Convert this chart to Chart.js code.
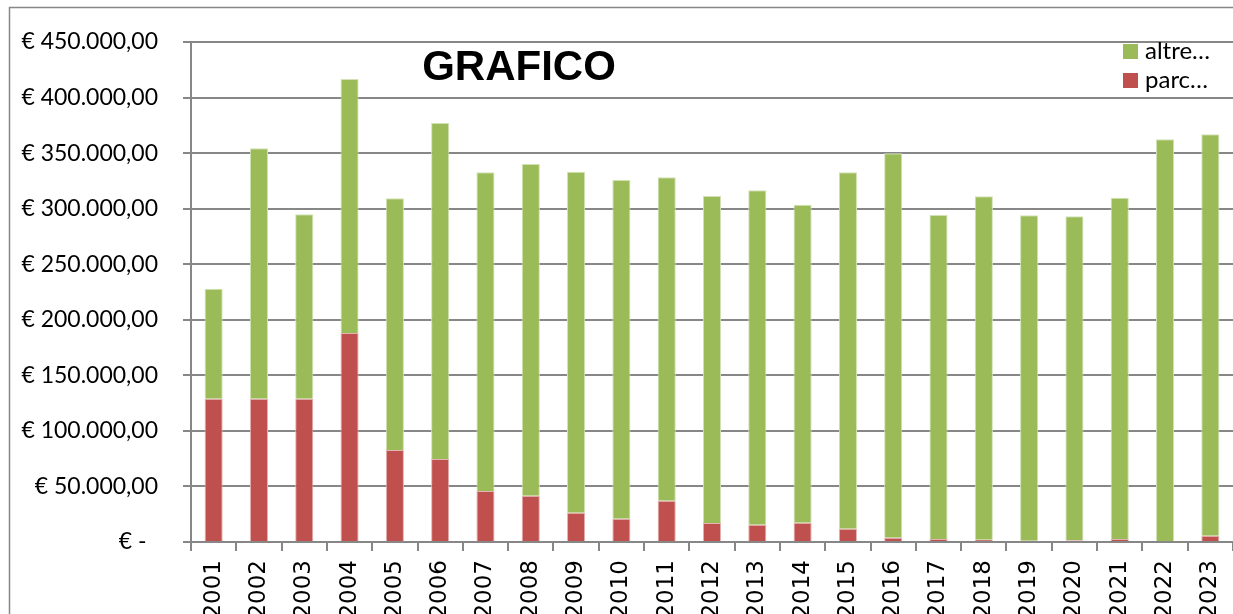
<!DOCTYPE html>
<html>
<head>
<meta charset="utf-8">
<script src="https://cdn.jsdelivr.net/npm/chart.js@4"></script>
<style>
  html, body { margin: 0; padding: 0; background: #fff; overflow: hidden; }
  #wrap { width: 1233px; height: 614px; }
</style>
</head>
<body>
<div id="wrap"><canvas id="grafico" width="1233" height="614"></canvas></div>
<script>
// dati
const anni = ["2001", "2002", "2003", "2004", "2005", "2006", "2007", "2008", "2009", "2010", "2011", "2012",
  "2013", "2014", "2015", "2016", "2017", "2018", "2019", "2020", "2021", "2022", "2023"];
const parc = [129000, 129000, 129000, 188100, 82800, 74700, 45900, 41700, 26400, 21000, 37200, 17100,
  15600, 17400, 12000, 3900, 2700, 2100, 1200, 1500, 2700, 900, 5700];
const altre = [99000, 225300, 165900, 228600, 226500, 302400, 286800, 298500, 306900, 304800, 291000, 294300,
  300900, 286200, 320700, 345900, 291600, 309000, 292800, 291600, 307200, 361500, 361200];
const yTicks = [0, 50000, 100000, 150000, 200000, 250000, 300000, 350000, 400000, 450000];

const verde = '#9BBB59';
const rosso = '#C0504D';
const grigio = '#878787';

function euro(v) {
  if (v === 0) return '€ -\u2002';
  const s = Math.round(v).toString().replace(/\B(?=(\d{3})+(?!\d))/g, '.');
  return '€ ' + s + ',00';
}

// cornice, titolo e legenda disegnati a mano
const decorazioni = {
  id: 'decorazioni',
  beforeDraw(chart) {
    const ctx = chart.ctx;
    ctx.save();
    ctx.fillStyle = '#fff';
    ctx.fillRect(0, 0, chart.width, chart.height);
    ctx.strokeStyle = grigio;
    ctx.lineWidth = 1.5;
    ctx.beginPath();
    ctx.moveTo(9.5, chart.height);
    ctx.lineTo(9.5, 7.5);
    ctx.lineTo(chart.width, 7.5);
    ctx.stroke();
    ctx.restore();
  },
  afterDraw(chart) {
    const ctx = chart.ctx;
    ctx.save();
    ctx.fillStyle = '#000';
    ctx.font = 'bold 42px "Liberation Sans"';
    ctx.textAlign = 'center';
    ctx.textBaseline = 'alphabetic';
    ctx.fillText('GRAFICO', 519, 80);

    const ds = chart.data.datasets.slice().reverse();
    ctx.font = '24px Lato';
    ctx.textAlign = 'left';
    ctx.textBaseline = 'middle';
    ds.forEach((d, i) => {
      const y = 51 + i * 29;
      ctx.fillStyle = d.backgroundColor;
      ctx.fillRect(1123, y - 7, 15, 15);
      ctx.fillStyle = '#000';
      ctx.fillText(d.label, 1145, y);
    });
    ctx.restore();
  }
};

const ctx = document.getElementById('grafico').getContext('2d');
new Chart(ctx, {
  type: 'bar',
  data: {
    labels: anni,
    datasets: [
      { label: 'parc…', data: parc, backgroundColor: rosso, borderColor: '#e3b3b2', borderWidth: 1 },
      { label: 'altre…', data: altre, backgroundColor: verde, borderColor: '#d2e2b4', borderWidth: 1 }
    ]
  },
  options: {
    responsive: false,
    animation: false,
    layout: { padding: { left: 20, top: 42, right: 0, bottom: 0 } },
    datasets: { bar: { categoryPercentage: 1, barPercentage: 0.4 } },
    plugins: {
      legend: { display: false },
      title: { display: false },
      tooltip: { enabled: false }
    },
    scales: {
      x: {
        stacked: true,
        grid: { display: true, drawOnChartArea: false, drawTicks: true, tickLength: 9, color: grigio, lineWidth: 2, offset: true },
        border: { display: true, color: grigio, width: 2 },
        ticks: {
          minRotation: 90, maxRotation: 90, autoSkip: false, padding: 9,
          color: '#000', font: { family: '"DejaVu Sans"', size: 23 }
        },
        afterFit(scale) {
          scale.height = 72;
          scale.paddingLeft = 0;
          scale.paddingRight = 0;
        }
      },
      y: {
        stacked: true,
        min: 0,
        max: 450000,
        afterBuildTicks(scale) { scale.ticks = yTicks.map(v => ({ value: v })); },
        grid: { color: grigio, lineWidth: 2, tickLength: 8 },
        border: { display: true, color: grigio, width: 2 },
        ticks: {
          padding: 25, color: '#000',
          font: { family: 'Lato', size: 23 },
          callback: v => euro(v)
        },
        afterFit(scale) { scale.width = 171; }
      }
    }
  },
  plugins: [decorazioni]
});
</script>
</body>
</html>
